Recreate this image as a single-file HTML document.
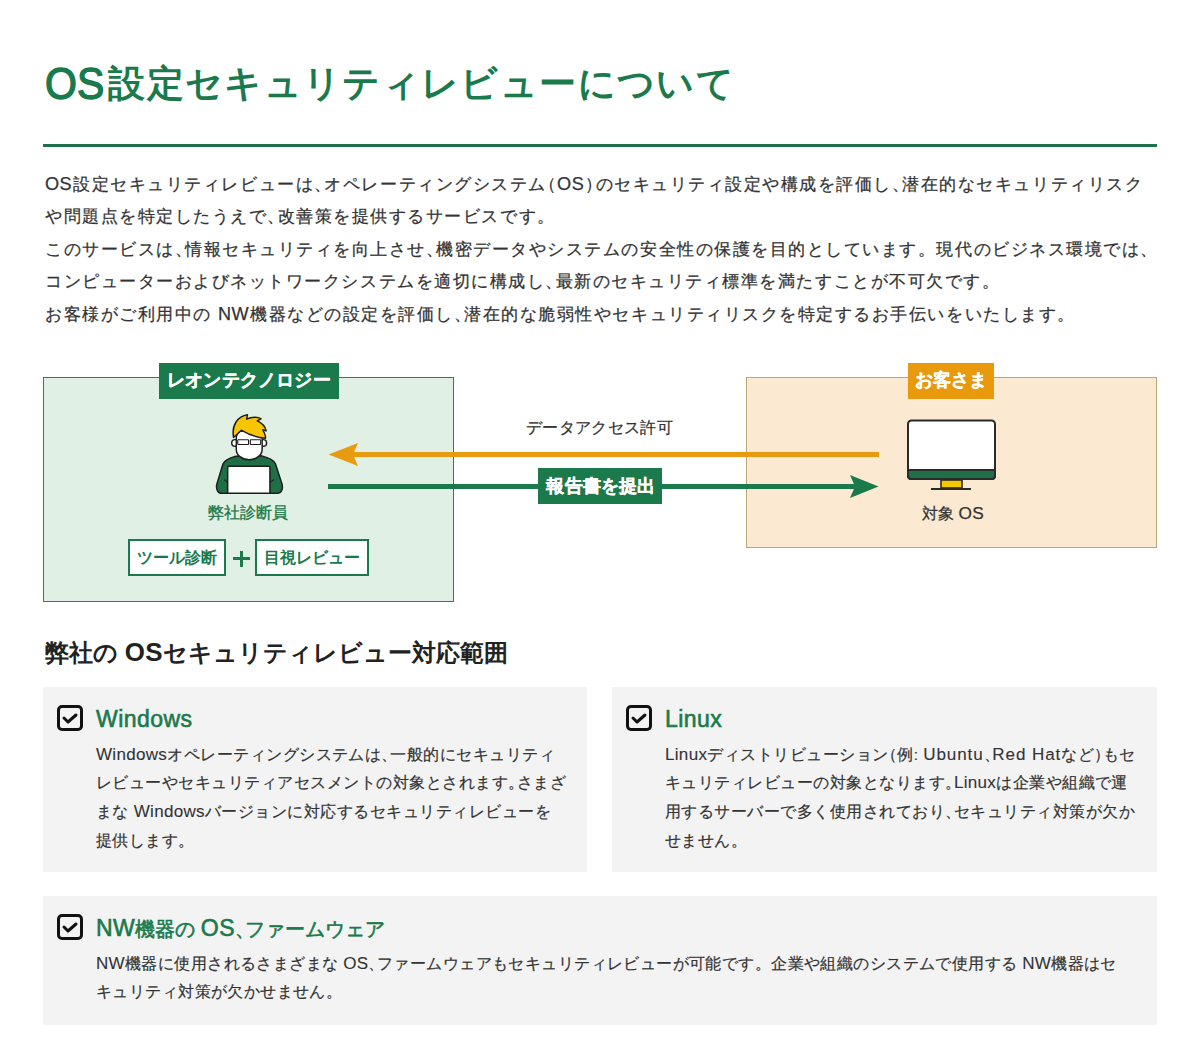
<!DOCTYPE html>
<html lang="ja">
<head>
<meta charset="utf-8">
<title>OS設定セキュリティレビューについて</title>
<style>
html,body{margin:0;padding:0;background:#fff;}
body{width:1200px;height:1044px;overflow:hidden;position:relative;font-family:"Liberation Sans",sans-serif;color:#333;}
.a{position:absolute;white-space:nowrap;}
.h{margin-right:-0.5em;}
.hl{margin-left:-0.5em;}
#title{left:45px;top:57px;font-size:37px;line-height:50px;font-weight:bold;color:#1a7a4c;letter-spacing:1.36px;}
#title .L{font-size:41px;font-weight:normal;-webkit-text-stroke:1.3px #1a7a4c;letter-spacing:0px;display:inline-block;transform:translateY(3px) scaleY(1.07);transform-origin:50% 70%;margin-right:4px;}
#rule{left:43px;top:144px;width:1114px;height:3px;background:#1d704b;}
.para{left:45px;font-size:16.5px;line-height:32px;color:#333;letter-spacing:1.53px;-webkit-text-stroke:0.25px #333;}
.para .L{font-size:1.1em;letter-spacing:0.5px;margin-right:1px;}
.L{font-size:1.08em;letter-spacing:0.02em;}
.ct .L{font-size:1.15em;}
.box{position:absolute;box-sizing:border-box;}
#lbox{left:43px;top:377px;width:411px;height:225px;background:#e0f0e4;border:1px solid #44735c;}
#rbox{left:746px;top:377px;width:411px;height:171px;background:#fbe9d2;border:1px solid #bca577;}
.label{position:absolute;box-sizing:border-box;height:36px;top:363px;color:#fff;font-weight:bold;font-size:18px;line-height:36px;text-align:center;white-space:nowrap;letter-spacing:0.2px;-webkit-text-stroke:0.3px #fff;}
#l1{left:159px;width:180px;background:#1a7a4c;line-height:34px;}
#l2{left:908px;width:86px;background:#e8990c;line-height:34px;}
.tool{position:absolute;box-sizing:border-box;top:539px;height:37px;border:2px solid #1a7a4c;background:#fff;color:#1a7a4c;font-weight:bold;font-size:16px;line-height:33px;text-align:center;white-space:nowrap;}
#h2{left:45px;top:636px;font-size:24px;line-height:32px;font-weight:bold;color:#222;}
.card{position:absolute;background:#f3f3f3;}
.chk{position:absolute;left:14px;top:18px;width:26px;height:26px;}
.ct{position:absolute;left:53px;top:16px;font-size:20px;line-height:32px;color:#1a7a4c;white-space:nowrap;-webkit-text-stroke:0.6px #1a7a4c;}
.cb{position:absolute;left:53px;top:53.5px;font-size:15.5px;line-height:28.8px;color:#333;white-space:nowrap;letter-spacing:0.48px;-webkit-text-stroke:0.2px #333;}
.cb .L{font-size:1.1em;letter-spacing:0.3px;-webkit-text-stroke:0.1px #333;}
</style>
</head>
<body>
<div id="title" class="a"><span class="L">OS</span>設定セキュリティレビューについて</div>
<div id="rule" class="a"></div>

<div class="a para" style="top:168px"><span class="L">OS</span>設定セキュリティレビューは<span class="h">、</span>オペレーティングシステム<span class="hl">（</span><span class="L">OS</span><span class="h">）</span>のセキュリティ設定や構成を評価し<span class="h">、</span>潜在的なセキュリティリスク</div>
<div class="a para" style="top:200px">や問題点を特定したうえで<span class="h">、</span>改善策を提供するサービスです。</div>
<div class="a para" style="top:233px">このサービスは<span class="h">、</span>情報セキュリティを向上させ<span class="h">、</span>機密データやシステムの安全性の保護を目的としています。現代のビジネス環境では、</div>
<div class="a para" style="top:265px">コンピューターおよびネットワークシステムを適切に構成し<span class="h">、</span>最新のセキュリティ標準を満たすことが不可欠です。</div>
<div class="a para" style="top:298px">お客様がご利用中の <span class="L">NW</span>機器などの設定を評価し<span class="h">、</span>潜在的な脆弱性やセキュリティリスクを特定するお手伝いをいたします。</div>

<!-- diagram -->
<div id="lbox" class="box"></div>
<div id="rbox" class="box"></div>
<div id="l1" class="label">レオンテクノロジー</div>
<div id="l2" class="label">お客さま</div>

<div class="a" style="left:526px;top:416px;font-size:16px;line-height:24px;color:#333;letter-spacing:0.35px;-webkit-text-stroke:0.25px #333;">データアクセス許可</div>

<svg class="a" style="left:0;top:0" width="1200" height="1044" viewBox="0 0 1200 1044">
  <!-- orange arrow -->
  <rect x="350" y="452" width="529" height="5" fill="#e89a10"/>
  <path d="M328.5 454.5 L358 443 L353 454.5 L358 466 Z" fill="#e89a10"/>
  <!-- green arrow -->
  <rect x="328" y="484" width="528" height="5" fill="#1a7a4c"/>
  <path d="M878.5 486.5 L850 475 L855 486.5 L850 498 Z" fill="#1a7a4c"/>
  <!-- person -->
  <g transform="translate(210 408) scale(0.08621)" stroke="#1e1e1e" stroke-width="17" stroke-linejoin="round">
    <path d="M300 560 C230 580 170 600 150 650 L80 880 C65 940 90 990 140 990 L780 990 C830 990 850 940 835 880 L760 650 C740 600 680 580 600 555 Z" fill="#1f6e45"/>
    <path d="M165 830 L200 860 M740 830 L705 860" fill="none" stroke-width="12"/>
    <rect x="205" y="675" width="490" height="315" rx="14" fill="#fff"/>
    <circle cx="290" cy="405" r="38" fill="#fff"/>
    <circle cx="618" cy="405" r="38" fill="#fff"/>
    <path d="M305 350 C305 290 365 240 455 240 C545 240 605 290 605 350 L605 480 C605 545 535 600 452 600 C370 600 305 545 305 480 Z" fill="#fff"/>
    <path d="M272 335 C250 200 320 95 435 78 L425 130 C485 100 560 100 592 125 L548 150 C605 175 640 215 652 265 L612 252 C632 290 652 330 642 352 C540 340 430 300 362 258 C332 290 300 320 272 340 Z" fill="#f7c600"/>
    <g stroke-width="13" fill="#fff">
      <rect x="322" y="368" width="125" height="55" rx="6"/>
      <rect x="468" y="368" width="120" height="55" rx="6"/>
    </g>
  </g>
  <!-- monitor -->
  <rect x="908" y="420.5" width="87" height="58.5" rx="3.5" fill="#fff" stroke="#2a2a2a" stroke-width="2"/>
  <path d="M908 470 H995 V476 A3 3 0 0 1 992 479 H911 A3 3 0 0 1 908 476 Z" fill="#1f6f48" stroke="#2a2a2a" stroke-width="2"/>
  <rect x="941" y="480" width="21" height="8" fill="#f5c800" stroke="#2a2a2a" stroke-width="1.6"/>
  <rect x="931" y="488" width="40" height="2" fill="#2a2a2a"/>
</svg>

<div class="label" style="left:538px;top:468px;width:124px;background:#1a7a4c;font-size:18px;letter-spacing:0.2px;padding-left:2px;">報告書を提出</div>

<div class="a" style="left:208px;top:501px;font-size:16px;line-height:24px;color:#1f7a4c;-webkit-text-stroke:0.35px #1f7a4c;">弊社診断員</div>
<div class="tool" style="left:128px;width:98px;">ツール診断</div>
<div class="a" style="left:231px;top:551px;width:20px;height:24px;">
  <div style="position:absolute;left:1.5px;top:6px;width:17px;height:3px;background:#1a7a4c"></div>
  <div style="position:absolute;left:8.5px;top:-0.5px;width:3px;height:16px;background:#1a7a4c"></div>
</div>
<div class="tool" style="left:255px;width:114px;">目視レビュー</div>

<div class="a" style="left:922px;top:501px;font-size:16px;line-height:24px;color:#333;-webkit-text-stroke:0.25px #333;">対象 <span class="L">OS</span></div>

<div id="h2" class="a">弊社の <span class="L">OS</span>セキュリティレビュー対応範囲</div>

<!-- cards -->
<div class="card" style="left:43px;top:687px;width:544px;height:185px;">
  <svg class="chk" viewBox="0 0 26 26"><rect x="1.5" y="1.5" width="23" height="23" rx="3.5" fill="none" stroke="#111" stroke-width="3"/><path d="M7 13 L11 17 L19 10" fill="none" stroke="#111" stroke-width="3" stroke-linecap="round" stroke-linejoin="round"/></svg>
  <div class="ct"><span class="L">Windows</span></div>
  <div class="cb"><span class="L">Windows</span>オペレーティングシステムは<span class="h">、</span>一般的にセキュリティ<br>レビューやセキュリティアセスメントの対象とされます<span class="h">。</span>さまざ<br>まな <span class="L">Windows</span>バージョンに対応するセキュリティレビューを<br>提供します。</div>
</div>
<div class="card" style="left:612px;top:687px;width:545px;height:185px;">
  <svg class="chk" viewBox="0 0 26 26"><rect x="1.5" y="1.5" width="23" height="23" rx="3.5" fill="none" stroke="#111" stroke-width="3"/><path d="M7 13 L11 17 L19 10" fill="none" stroke="#111" stroke-width="3" stroke-linecap="round" stroke-linejoin="round"/></svg>
  <div class="ct"><span class="L">Linux</span></div>
  <div class="cb"><span class="L">Linux</span>ディストリビューション<span class="hl">（</span>例: <span class="L" style="letter-spacing:0.9px">Ubuntu</span><span class="h">、</span><span class="L" style="letter-spacing:0.9px">Red Hat</span>など<span class="h">）</span>もセ<br>キュリティレビューの対象となります<span class="h">。</span><span class="L">Linux</span>は企業や組織で運<br>用するサーバーで多く使用されており<span class="h">、</span>セキュリティ対策が欠か<br>せません。</div>
</div>
<div class="card" style="left:43px;top:896px;width:1114px;height:129px;">
  <svg class="chk" viewBox="0 0 26 26"><rect x="1.5" y="1.5" width="23" height="23" rx="3.5" fill="none" stroke="#111" stroke-width="3"/><path d="M7 13 L11 17 L19 10" fill="none" stroke="#111" stroke-width="3" stroke-linecap="round" stroke-linejoin="round"/></svg>
  <div class="ct"><span class="L">NW</span>機器の <span class="L">OS</span><span class="h">、</span>ファームウェア</div>
  <div class="cb" style="letter-spacing:0.42px"><span class="L">NW</span>機器に使用されるさまざまな <span class="L">OS</span><span class="h">、</span>ファームウェアもセキュリティレビューが可能です。企業や組織のシステムで使用する <span class="L">NW</span>機器はセ<br>キュリティ対策が欠かせません。</div>
</div>
</body>
</html>
